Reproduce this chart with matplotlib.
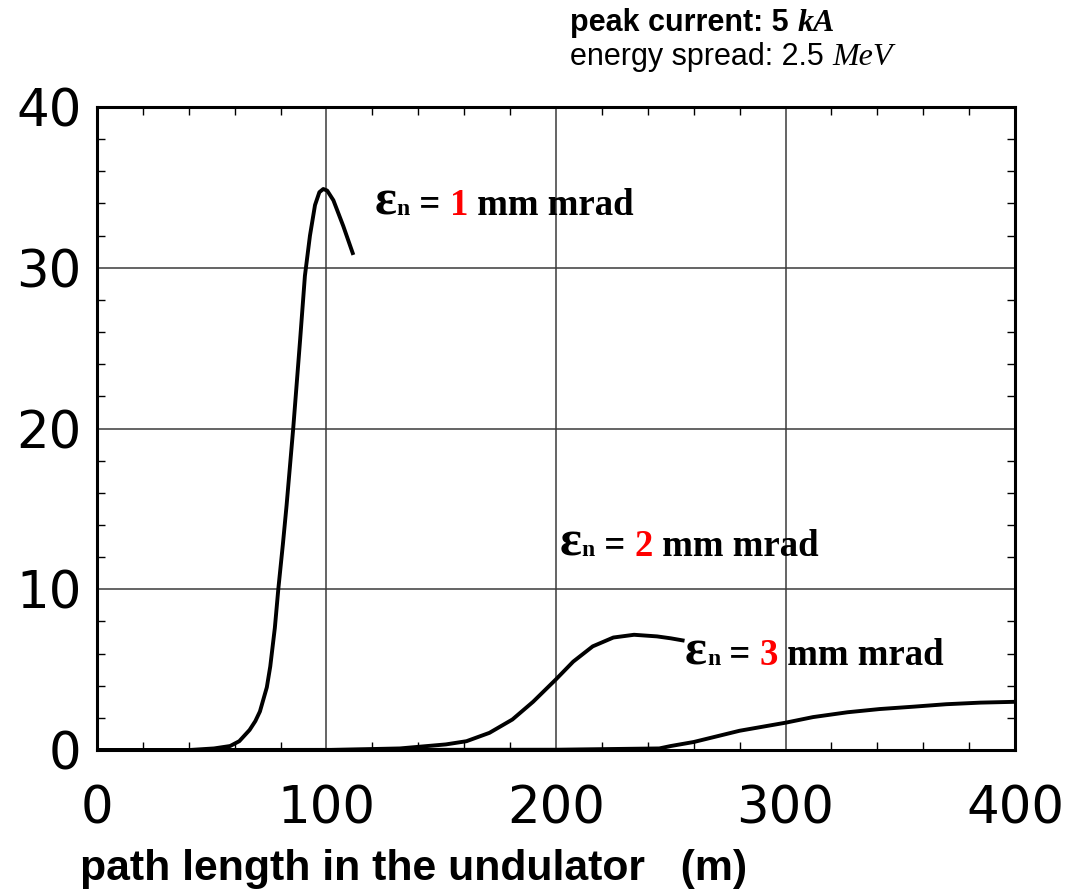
import matplotlib
import matplotlib.pyplot as plt
from matplotlib.ticker import MultipleLocator

matplotlib.use('Agg')

# FEL power growth along the undulator for three normalized emittances
z1 = [0, 40, 51, 58, 62, 66.5, 69, 71, 74, 75.5, 77.5, 79, 81, 82.6, 85.5, 88.5,
      90.6, 92.8, 95, 96.9, 98.6, 100.3, 103, 107.3, 111.7]
p1 = [0, 0, 0.1, 0.25, 0.55, 1.25, 1.8, 2.4, 3.9, 5.2, 7.6, 10, 12.8, 15.2, 20, 25.5,
      29.5, 32.0, 33.9, 34.7, 34.9, 34.8, 34.2, 32.6, 30.8]

z2 = [0, 100, 132, 152, 161, 171, 181, 190, 200, 207.5, 216, 225, 234, 244, 250, 256]
p2 = [0, 0, 0.1, 0.35, 0.55, 1.07, 1.9, 3.0, 4.4, 5.5, 6.45, 7.0, 7.17, 7.07, 6.95, 6.8]

z3 = [0, 200, 245, 250, 260, 270, 280, 290, 300, 312, 327, 341, 356, 370, 385, 400]
p3 = [0, 0.02, 0.1, 0.25, 0.5, 0.85, 1.2, 1.45, 1.7, 2.05, 2.35, 2.55, 2.7, 2.85, 2.95, 3.0]

emittances = ['1', '2', '3']
label_pos = [(121.1, 33.3), (201.7, 12.1), (256.2, 5.3)]

xticks = [0, 100, 200, 300, 400]
yticks = [0, 10, 20, 30, 40]

fig = plt.figure(figsize=(10.68, 8.91), dpi=100)
ax = fig.add_axes([0.0908, 0.1582, 0.8596, 0.7217])

for z, p in [(z1, p1), (z2, p2), (z3, p3)]:
    ax.plot(z, p, color='black', lw=2.8, solid_capstyle='butt', solid_joinstyle='round',
            zorder=3)

ax.set_xlim(0, 400)
ax.set_ylim(0, 40)
ax.set_xticks(xticks)
ax.set_yticks(yticks)
ax.xaxis.set_minor_locator(MultipleLocator(20))
ax.yaxis.set_minor_locator(MultipleLocator(2))
ax.grid(True, which='major', color='#3a3a3a', lw=1.1)
ax.tick_params(which='both', direction='in', top=True, right=True, width=1.0)
ax.tick_params(which='major', length=0)
ax.tick_params(which='minor', length=6)
ax.tick_params(axis='x', which='major', pad=25, labelsize=37)
ax.tick_params(axis='y', which='major', pad=11, labelsize=37)
for lab in ax.get_xticklabels() + ax.get_yticklabels():
    lab.set_family('DejaVu Sans')
for s in ax.spines.values():
    s.set_linewidth(2.2)

serif = 'Liberation Serif'
sans = 'Liberation Sans'


def chain(prev, s, size, coords, y, **kw):
    # place the next piece of text right after the previous one, on the same baseline
    return ax.annotate(s, xy=(1, y), xycoords=(prev, coords), va='baseline',
                       ha='left', fontsize=size, annotation_clip=False, **kw)


for em, (x, y) in zip(emittances, label_pos):
    t = ax.text(x, y, 'ε', fontsize=37, family=serif, fontweight='bold', va='baseline')
    t = chain(t, 'n', 17, 'data', y, family=serif, fontweight='bold')
    t = chain(t, ' = ', 26.5, 'data', y, family=serif, fontweight='bold')
    t = chain(t, em, 26.5, 'data', y, family=serif, fontweight='bold', color='red')
    t = chain(t, ' mm mrad', 26.5, 'data', y, family=serif, fontweight='bold')

# beam parameters in the upper right corner
t = fig.text(570 / 1068, 1 - 31 / 891, 'peak current: 5 ', fontsize=22, family=sans,
             fontweight='bold', va='baseline')
ax.annotate('kA', xy=(1, 1 - 31 / 891), xycoords=(t, 'figure fraction'), va='baseline',
            fontsize=23, family=serif, style='italic', fontweight='bold',
            annotation_clip=False)
t = fig.text(570 / 1068, 1 - 65 / 891, 'energy spread: 2.5 ', fontsize=22, family=sans,
             va='baseline')
ax.annotate('MeV', xy=(1, 1 - 65 / 891), xycoords=(t, 'figure fraction'), va='baseline',
            fontsize=23, family=serif, style='italic', annotation_clip=False)

fig.text(80 / 1068, 1 - 880 / 891, 'path length in the undulator   (m)', fontsize=30.8,
         family=sans, fontweight='bold', va='baseline')

fig.savefig('out.png', dpi=100)
